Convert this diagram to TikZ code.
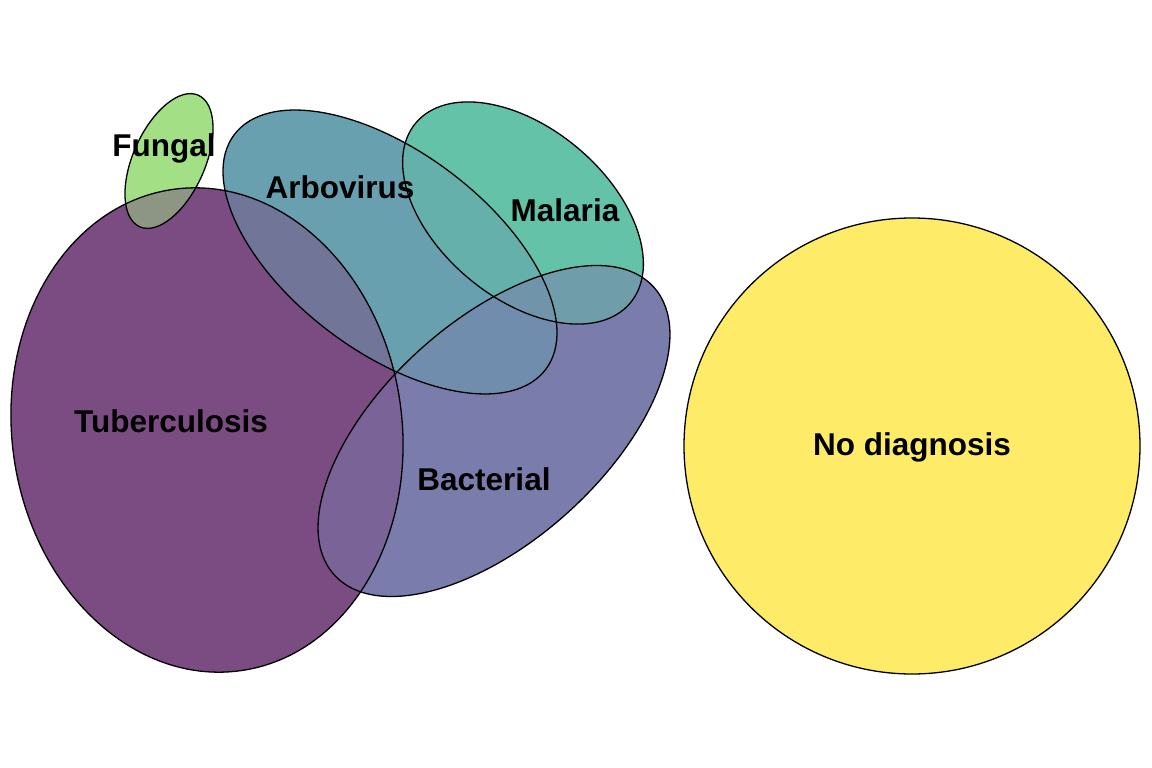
\documentclass[tikz,border=0pt]{standalone}
\usepackage{fontspec}
\setmainfont{Liberation Sans}
\begin{document}
\begin{tikzpicture}[x=1pt,y=1pt,
  lab/.style={font=\fontsize{31.5}{34}\selectfont\bfseries,text=black}]
\definecolor{ctub}{RGB}{122,76,130}
\definecolor{cbac}{RGB}{122,124,171}
\definecolor{carb}{RGB}{105,160,176}
\definecolor{cmal}{RGB}{100,194,169}
\definecolor{cfun}{RGB}{162,223,133}
\definecolor{cnod}{RGB}{254,236,104}
\def\shtub{(207,-430) [rotate around={8:(207,-430)}] ellipse [x radius=195,y radius=243]}
\def\shbac{(494,-431) [rotate around={42:(494,-431)}] ellipse [x radius=215,y radius=110]}
\def\sharb{(390,-252) [rotate around={-37:(390,-252)}] ellipse [x radius=195,y radius=100]}
\def\shmal{(523,-213) [rotate around={-40:(523,-213)}] ellipse [x radius=140,y radius=85]}
\def\shfun{(169,-161) [rotate around={-24:(169,-161)}] ellipse [x radius=36,y radius=72]}
\useasboundingbox (0,0) rectangle (1152,-768);
\fill[white] (0,0) rectangle (1152,-768);
% pass 1 solid
\fill[ctub] \shtub; \fill[cbac] \shbac; \fill[carb] \sharb; \fill[cmal] \shmal; \fill[cfun] \shfun;
% pass 2 blend
\fill[cmal,fill opacity=0.5] \shmal; \fill[carb,fill opacity=0.5] \sharb;
\fill[cbac,fill opacity=0.5] \shbac; \fill[ctub,fill opacity=0.5] \shtub;
% outlines
\draw[line width=1.3pt] \shtub; \draw[line width=1.3pt] \shbac; \draw[line width=1.3pt] \sharb;
\draw[line width=1.3pt] \shmal; \draw[line width=1.3pt] \shfun;
\draw[line width=1.3pt,fill=cnod] (912,-446) circle [radius=228];
\node[lab] (f) at (164,-148) {Fungal};
\node[lab] (a) at (340,-187) {Arbovirus};
\node[lab] (m) at (565,-210) {Malaria};
\node[lab] (t) at (171,-421) {Tuberculosis};
\node[lab] (b) at (484,-479) {Bacterial};
\node[lab] (n) at (912,-447) {No diagnosis};
\end{tikzpicture}
\end{document}
